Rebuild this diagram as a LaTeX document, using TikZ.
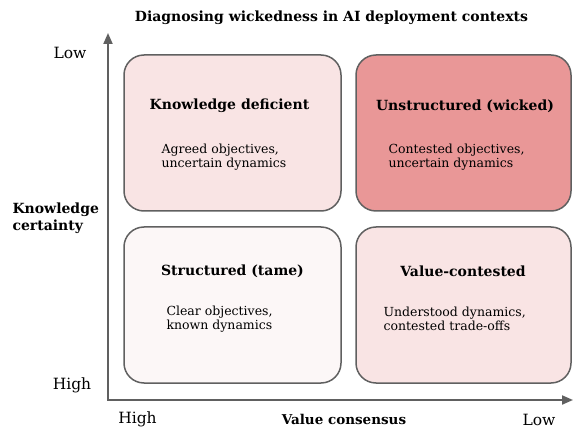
\documentclass[tikz,border=0pt]{standalone}
\usepackage{fontspec}
\setmainfont{DejaVu Serif}
\usetikzlibrary{arrows.meta}

\definecolor{framegray}{HTML}{606060}
\definecolor{palepink}{HTML}{F9E4E4}
\definecolor{wickedred}{HTML}{E99797}
\definecolor{offwhite}{HTML}{FCF7F7}

\begin{document}
\begin{tikzpicture}[x=1pt, y=-1pt,
    quadrant/.style={draw=framegray, line width=1.5pt, rounded corners=20pt,
      minimum height=156pt, inner sep=0pt},
    qtitle/.style={font=\fontsize{14}{16}\selectfont\bfseries},
    qbody/.style={anchor=west, align=left, font=\fontsize{12.5}{14.5}\selectfont},
    axislabel/.style={font=\fontsize{15.5}{18}\selectfont}]
  \useasboundingbox (0,0) rectangle (573,430);

  \node[qtitle] (title) at (331.5,18) {Diagnosing wickedness in AI deployment contexts};

  % axes
  \coordinate (origin) at (108,400);
  \coordinate (ytip) at (108,33);
  \coordinate (xtip) at (573,400);
  \draw[framegray, line width=2pt,
    {Triangle[length=11pt,width=9pt]}-{Triangle[length=11pt,width=9pt]}]
    (ytip) -- (origin) -- (xtip);

  % quadrants
  \node[quadrant, fill=palepink, minimum width=217pt] (kd) at (232.5,133) {};
  \node[quadrant, fill=wickedred, minimum width=215pt] (uw) at (463.5,133) {};
  \node[quadrant, fill=offwhite, minimum width=217pt] (st) at (232.5,305) {};
  \node[quadrant, fill=palepink, minimum width=215pt] (vc) at (463.5,305) {};

  \node[qtitle] (kdtitle) at (229.5,106) {Knowledge deficient};
  \node[qbody] (kdbody) at (158,157) {Agreed objectives,\\uncertain dynamics};
  \node[qtitle] (uwtitle) at (465,106) {Unstructured (wicked)};
  \node[qbody] (uwbody) at (385,157) {Contested objectives,\\uncertain dynamics};
  \node[qtitle] (sttitle) at (232.5,271) {Structured (tame)};
  \node[qbody] (stbody) at (163,319) {Clear objectives,\\known dynamics};
  \node[qtitle] (vctitle) at (463,271) {Value-contested};
  \node[qbody] (vcbody) at (380,319) {Understood dynamics,\\contested trade-offs};

  % axis labels
  \node[axislabel] (ylow) at (70,53) {Low};
  \node[axislabel] (yhigh) at (72,385) {High};
  \node[axislabel, font=\fontsize{14}{17}\selectfont\bfseries, anchor=west, align=left]
    (ylabel) at (9,218.5) {Knowledge\\certainty};
  \node[axislabel] (xhigh) at (137.5,419) {High};
  \node[axislabel, font=\fontsize{13.5}{16}\selectfont\bfseries] (xlabel) at (344,419) {Value consensus};
  \node[axislabel] (xlow) at (539,420) {Low};
\end{tikzpicture}
\end{document}
